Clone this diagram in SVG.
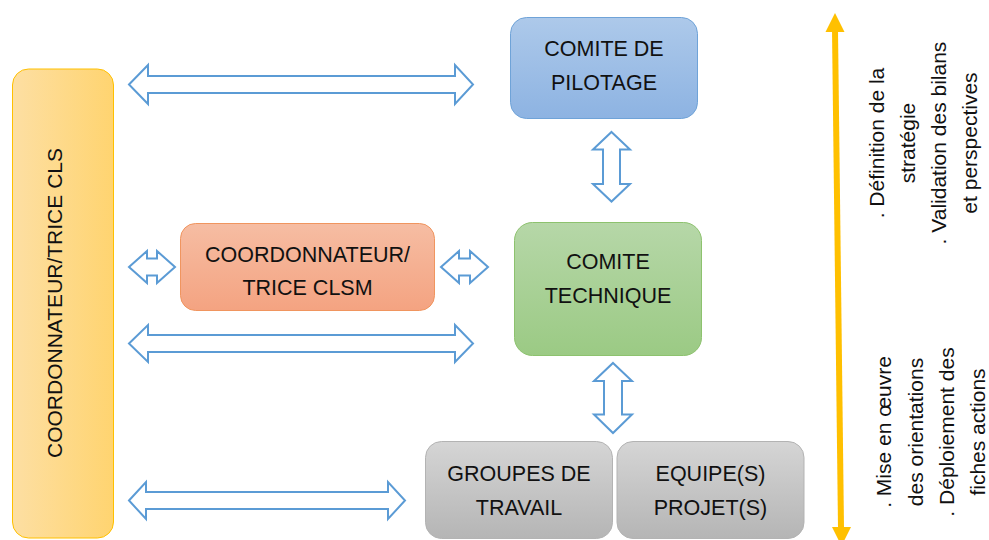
<svg xmlns="http://www.w3.org/2000/svg" width="989" height="540" viewBox="0 0 989 540">
<defs>
<linearGradient id="gY" x1="0" y1="0" x2="1" y2="0"><stop offset="0" stop-color="#FDDFA3"/><stop offset="1" stop-color="#FFD470"/></linearGradient>
<linearGradient id="gB" x1="0" y1="0" x2="0" y2="1"><stop offset="0" stop-color="#ADC9EA"/><stop offset="1" stop-color="#8DB3E2"/></linearGradient>
<linearGradient id="gG" x1="0" y1="0" x2="0" y2="1"><stop offset="0" stop-color="#B6D7A8"/><stop offset="1" stop-color="#9BCA84"/></linearGradient>
<linearGradient id="gO" x1="0" y1="0" x2="0" y2="1"><stop offset="0" stop-color="#F6BDA3"/><stop offset="1" stop-color="#F4A381"/></linearGradient>
<linearGradient id="gR" x1="0" y1="0" x2="0" y2="1"><stop offset="0" stop-color="#D5D5D5"/><stop offset="1" stop-color="#B5B5B5"/></linearGradient>
</defs>
<style>
text{font-family:"Liberation Sans",Arial,sans-serif;fill:#111;}
.bt{font-size:21.5px;text-anchor:middle;}
.rt{font-size:21px;text-anchor:middle;}
.arr{fill:#fff;stroke:#5B9BD5;stroke-width:2;stroke-linejoin:miter;}
</style>

<g id="coord-cls">
<rect x="12.5" y="69" width="101" height="469" rx="16" fill="url(#gY)" stroke="#FFC000" stroke-width="1"/>
<text class="bt" font-size="21" transform="translate(61.5,303) rotate(-90)" style="font-size:21px">COORDONNATEUR/TRICE CLS</text>
</g>

<g id="comite-pilotage">
<rect x="510.5" y="17.5" width="187" height="101" rx="16" fill="url(#gB)" stroke="#6FA3D8" stroke-width="1"/>
<text class="bt" x="604" y="56">COMITE DE</text>
<text class="bt" x="604" y="90">PILOTAGE</text>
</g>

<g id="comite-technique">
<rect x="514.5" y="222.5" width="187" height="133" rx="18" fill="url(#gG)" stroke="#8DC26E" stroke-width="1"/>
<text class="bt" x="608" y="269">COMITE</text>
<text class="bt" x="608" y="303">TECHNIQUE</text>
</g>

<g id="coord-clsm">
<rect x="180.5" y="223.5" width="254" height="87" rx="15" fill="url(#gO)" stroke="#F0955F" stroke-width="1"/>
<text class="bt" x="307.5" y="262">COORDONNATEUR/</text>
<text class="bt" x="307.5" y="295">TRICE CLSM</text>
</g>

<g id="groupes-travail">
<rect x="425.5" y="441.5" width="187" height="97" rx="16" fill="url(#gR)" stroke="#B3B3B3" stroke-width="1"/>
<text class="bt" x="519" y="481">GROUPES DE</text>
<text class="bt" x="519" y="515">TRAVAIL</text>
</g>

<g id="equipes-projets">
<rect x="617" y="441.5" width="187" height="97" rx="16" fill="url(#gR)" stroke="#B3B3B3" stroke-width="1"/>
<text class="bt" x="710.5" y="481">EQUIPE(S)</text>
<text class="bt" x="710.5" y="515">PROJET(S)</text>
</g>

<g id="connectors">
<path class="arr" d="M129,84.5 L148,65 L148,76 L455,76 L455,65 L473,84.5 L455,104 L455,93 L148,93 L148,104 Z"/>
<path class="arr" d="M129,267 L147,251 L147,258.5 L157,258.5 L157,251 L175,267 L157,283 L157,275.5 L147,275.5 L147,283 Z"/>
<path class="arr" d="M441,267 L459,251 L459,258.5 L470,258.5 L470,251 L488,267 L470,283 L470,275.5 L459,275.5 L459,283 Z"/>
<path class="arr" d="M129,343.5 L148,325 L148,335 L455,335 L455,325 L473,343.5 L455,362 L455,352 L148,352 L148,362 Z"/>
<path class="arr" d="M129,500.5 L146,482 L146,492 L388,492 L388,482 L405,500.5 L388,519 L388,509 L146,509 L146,519 Z"/>
<path class="arr" d="M611.5,132 L630,149.5 L620,149.5 L620,184 L630,184 L611.5,201.5 L593,184 L603,184 L603,149.5 L593,149.5 Z"/>
<path class="arr" d="M613,363 L632,381 L622,381 L622,414.5 L632,414.5 L613,433 L594,414.5 L604,414.5 L604,381 L594,381 Z"/>
<line x1="835" y1="30" x2="841" y2="528" stroke="#FFC000" stroke-width="6"/>
<polygon points="835,13 825.5,32 844.5,32" fill="#FFC000"/>
<polygon points="841.5,546 832,527 851,527" fill="#FFC000"/>
</g>

<g id="texte-haut">
<text class="rt" transform="translate(884,143) rotate(-90)">. Définition de la</text>
<text class="rt" transform="translate(915,143) rotate(-90)">stratégie</text>
<text class="rt" transform="translate(946,143) rotate(-90)">. Validation des bilans</text>
<text class="rt" transform="translate(977,143) rotate(-90)">et perspectives</text>
</g>

<g id="texte-bas">
<text class="rt" transform="translate(891,432) rotate(-90)">. Mise en œuvre</text>
<text class="rt" transform="translate(923,432) rotate(-90)">des orientations</text>
<text class="rt" transform="translate(954,432) rotate(-90)">. Déploiement des</text>
<text class="rt" transform="translate(985,432) rotate(-90)">fiches actions</text>
</g>
</svg>
